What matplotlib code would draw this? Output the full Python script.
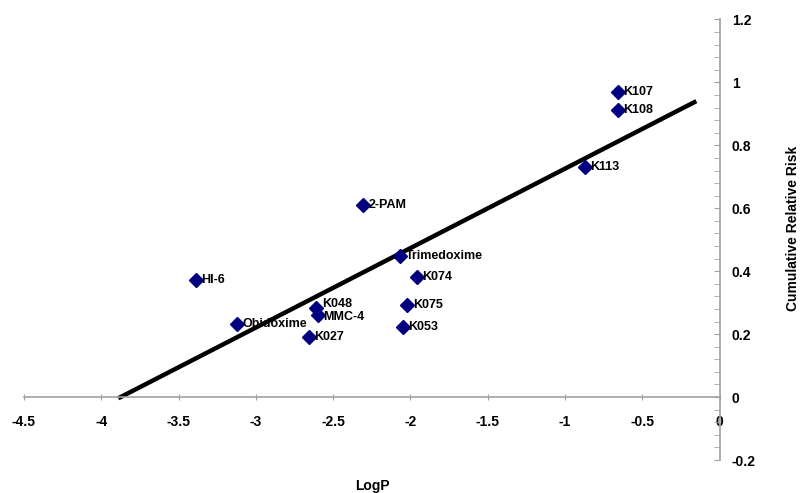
import numpy as np
import matplotlib
matplotlib.use("Agg")
import matplotlib.pyplot as plt
from matplotlib.ticker import MultipleLocator

plt.rcParams['font.family'] = ['Liberation Sans', 'DejaVu Sans']
plt.rcParams['font.weight'] = 'bold'

# oxime reactivators: LogP vs cumulative relative risk
names = ["2-PAM", "Trimedoxime", "K074", "HI-6", "K048", "MMC-4", "Obidoxime",
         "K027", "K075", "K053", "K107", "K108", "K113"]
logp = [-2.308, -2.067, -1.959, -3.388, -2.610, -2.600, -3.119,
        -2.657, -2.019, -2.049, -0.657, -0.657, -0.872]
risk = [0.611, 0.449, 0.381, 0.371, 0.284, 0.262, 0.233,
        0.192, 0.293, 0.223, 0.970, 0.911, 0.731]

# x span covered by the trend line
fit_range = [-3.89, -0.15]

# nudge the two overlapping labels apart (points)
nudge = {"K048": 3, "MMC-4": -2}

x = np.array(logp)
y = np.array(risk)
slope, icept = np.polyfit(x, y, 1)
xf = np.array(fit_range)

fig = plt.figure(figsize=(8.01, 4.93), dpi=100)
ax = fig.add_axes([24 / 801, 33 / 493, 695.5 / 801, 440.5 / 493])

ax.plot(xf, slope * xf + icept, color='black', lw=3.2, solid_capstyle='butt', zorder=2)
ax.plot(x, y, ls='none', marker='D', ms=7.5, color='#000080', zorder=3)
for n, xi, yi in zip(names, logp, risk):
    ax.annotate(n, (xi, yi), xytext=(4, nudge.get(n, 0)), textcoords='offset points',
                ha='left', va='center', fontsize=9, fontweight='bold', zorder=4)

ax.set_xlim(-4.5, 0)
ax.set_ylim(-0.2, 1.2)

ax.spines['top'].set_visible(False)
ax.spines['left'].set_visible(False)
ax.spines['bottom'].set_position(('data', 0))
ax.spines['right'].set_position(('data', 0))
for s in ['bottom', 'right']:
    ax.spines[s].set_color('#a0a0a0')
    ax.spines[s].set_linewidth(1.2)

ax.yaxis.tick_right()
ax.yaxis.set_minor_locator(MultipleLocator(0.04))
ax.tick_params(axis='y', which='both', direction='in', length=4, color='#a0a0a0',
               pad=9, labelsize=10)
ax.tick_params(axis='x', which='major', direction='inout', length=4, color='#a0a0a0',
               pad=11, labelsize=10)

ax.set_xticks(np.arange(-4.5, 0.01, 0.5))
ax.set_xticklabels(['-4.5', '-4', '-3.5', '-3', '-2.5', '-2', '-1.5', '-1', '-0.5', '0'])
ax.set_yticks(np.arange(-0.2, 1.21, 0.2))
ax.set_yticklabels(['-0.2', '0', '0.2', '0.4', '0.6', '0.8', '1', '1.2'])
for lab in ax.get_xticklabels() + ax.get_yticklabels():
    lab.set_fontweight('bold')

fig.text(372 / 801, 1 - 486 / 493, 'LogP', ha='center', va='center',
         fontsize=10, fontweight='bold')
fig.text(793 / 801, 1 - 228 / 493, 'Cumulative Relative Risk', ha='center', va='center',
         rotation=90, fontsize=10, fontweight='bold')

fig.savefig('out.png', dpi=100)
